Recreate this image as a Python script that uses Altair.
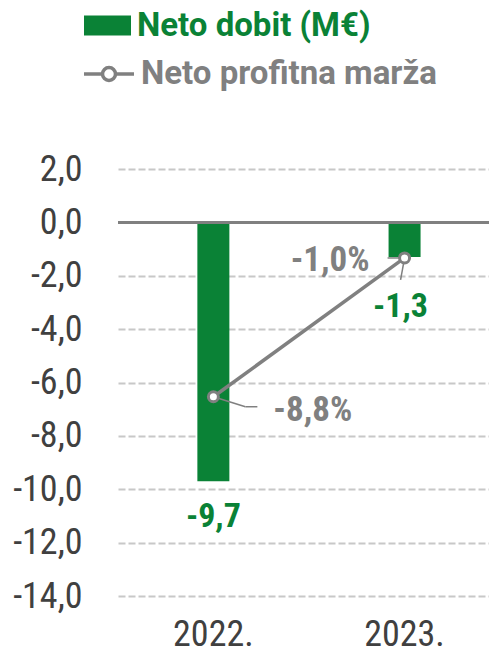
import altair as alt
import pandas as pd

years = ["2022.", "2023."]
neto_dobit = [-9.7, -1.3]
marza = [-8.8, -1.0]
y_ticks = [-14, -12, -10, -8, -6, -4, -2, 0, 2]

GREEN = "#0A8236"
GRAY = "#808080"
FONT = "Roboto Condensed, Roboto, sans-serif"
LFONT = "Roboto, sans-serif"

df = pd.DataFrame({
    "year": years,
    "dobit": neto_dobit,
    "marza": marza,
    "s1": ["Neto dobit (M€)"] * 2,
    "s2": ["Neto profitna marža"] * 2,
})
df["dobit_lbl"] = [("-" if v < 0 else "") + f"{abs(v):.1f}".replace(".", ",") for v in neto_dobit]
df["marza_lbl"] = [("-" if v < 0 else "") + f"{abs(v):.1f}".replace(".", ",") + "%" for v in marza]

base = alt.Chart(df)

x_scale = alt.Scale(paddingInner=0.8326, paddingOuter=0.3865, align=0.537)
x_enc = alt.X("year:N", sort=years, title=None, scale=x_scale,
              axis=alt.Axis(labelFont=FONT, labelFontSize=36, labelColor="#404040",
                            labelPadding=21, ticks=False, domain=False, labelAngle=0))
x_plain = alt.X("year:N", sort=years)

y1 = alt.Y("dobit:Q", title=None,
           scale=alt.Scale(domain=[-14, 2], nice=False, zero=False),
           axis=alt.Axis(values=y_ticks, labelFont=FONT, labelFontSize=36, labelColor="#404040",
                         labelPadding=36, ticks=False, domain=False,
                         labelExpr="(datum.value < 0 ? '-' : '') + replace(format(abs(datum.value), '.1f'), '.', ',')",
                         grid=True, gridColor="#c8c8c8", gridWidth=2, gridDash=[7, 3]))

bars = base.mark_bar(size=32).encode(
    x=x_enc,
    y=y1,
    color=alt.Color("s1:N", title=None,
                    scale=alt.Scale(domain=["Neto dobit (M€)"], range=[GREEN]),
                    legend=alt.Legend(orient="none", legendX=-34, legendY=-167, padding=0,
                                      symbolType="M-1,-0.43L1,-0.43L1,0.43L-1,0.43Z",
                                      symbolSize=2209, symbolStrokeWidth=0,
                                      labelFont=LFONT, labelFontSize=33, labelFontWeight="bold",
                                      labelColor=GREEN, labelOffset=6, labelLimit=400)),
)

zero = base.mark_rule(color=GRAY, strokeWidth=3).encode(y=alt.datum(0))

lbl_common = dict(font=FONT, fontSize=34, fontWeight="bold", color=GREEN, baseline="middle")
bar_lbl_2022 = base.transform_filter(alt.datum.year == years[0]).mark_text(dy=36, **lbl_common).encode(
    x=x_plain, y="dobit:Q", text="dobit_lbl:N")
bar_lbl_2023 = base.transform_filter(alt.datum.year == years[1]).mark_text(dy=50, dx=-4, **lbl_common).encode(
    x=x_plain, y="dobit:Q", text="dobit_lbl:N")

left = alt.layer(bars, zero, bar_lbl_2022, bar_lbl_2023)

y2 = alt.Y("marza:Q", title=None, scale=alt.Scale(domain=[-20, 4], nice=False, zero=False), axis=None)

line = base.mark_line(strokeWidth=3.5).encode(
    x=x_plain,
    y=y2,
    stroke=alt.Stroke("s2:N", title=None,
                      scale=alt.Scale(domain=["Neto profitna marža"], range=[GRAY]),
                      legend=alt.Legend(orient="none", legendX=-36, legendY=-122, padding=0,
                                        symbolType="M-1,0L-0.26,0M0.26,0L1,0M-0.26,0A0.26,0.26,0,1,1,0.26,0A0.26,0.26,0,1,1,-0.26,0Z",
                                        symbolSize=2500, symbolStrokeWidth=3.5, symbolFillColor="white",
                                        labelFont=LFONT, labelFontSize=33, labelFontWeight="bold",
                                        labelColor=GRAY, labelOffset=5, labelLimit=400)),
)

# leader lines of the data labels
f22 = base.transform_filter(alt.datum.year == years[0])
f23 = base.transform_filter(alt.datum.year == years[1])
lead_enc = dict(x=x_plain, y="marza:Q", x2=alt.X2("year:N"), y2=alt.Y2("marza:Q"))
lead_2022a = f22.mark_rule(color=GRAY, strokeWidth=1.5, x2Offset=32, y2Offset=10).encode(**lead_enc)
lead_2022b = f22.mark_rule(color=GRAY, strokeWidth=1.5, xOffset=32, yOffset=10,
                           x2Offset=44, y2Offset=10).encode(**lead_enc)
lead_2023a = f23.mark_rule(color=GRAY, strokeWidth=1.5, xOffset=-17).encode(**lead_enc)
lead_2023b = f23.mark_rule(color=GRAY, strokeWidth=1.5, x2Offset=-4, y2Offset=22).encode(**lead_enc)

points = base.mark_point(shape="circle", filled=True, fill="white", stroke=GRAY,
                         strokeWidth=3, size=100, opacity=1).encode(
    x=x_plain, y="marza:Q")

pct_common = dict(font=FONT, fontSize=35, fontWeight="bold", color=GRAY, baseline="middle")
pct_lbl_2022 = f22.mark_text(dx=60, dy=13, align="left", **pct_common).encode(
    x=x_plain, y="marza:Q", text="marza_lbl:N")
pct_lbl_2023 = f23.mark_text(dx=-35, dy=2, align="right", **pct_common).encode(
    x=x_plain, y="marza:Q", text="marza_lbl:N")

right = alt.layer(line, lead_2022a, lead_2022b, lead_2023a, lead_2023b, points,
                  pct_lbl_2022, pct_lbl_2023)

chart = alt.layer(left, right).resolve_scale(y="independent", color="independent").properties(
    width=371, height=427,
    autosize=alt.AutoSizeParams(type="none"),
    padding={"left": 110, "top": 161, "right": 0, "bottom": 52},
).configure_view(stroke=None)

chart.save("out.html", embed_options={"renderer": "svg", "actions": False})
